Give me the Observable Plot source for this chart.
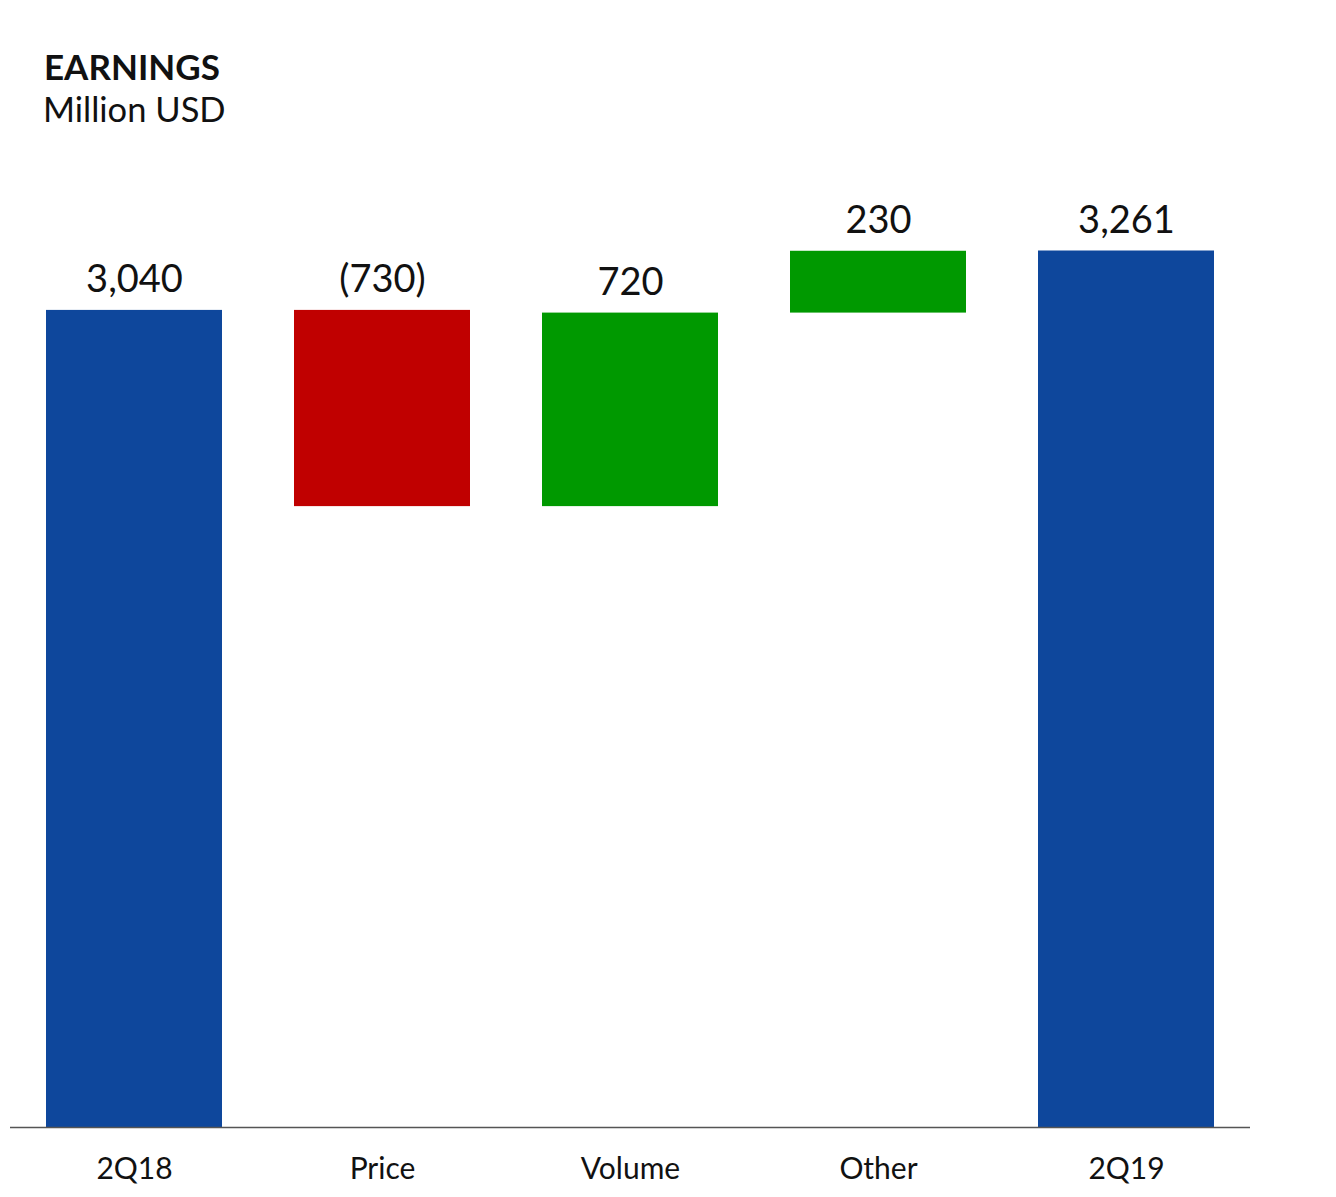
<!DOCTYPE html>
<html>
<head>
<meta charset="utf-8">
<script src="https://cdn.jsdelivr.net/npm/d3@7"></script>
<script src="https://cdn.jsdelivr.net/npm/@observablehq/plot@0.6"></script>
<style>
  html, body { margin: 0; padding: 0; background: #fff; }
  body { width: 1336px; font-family: Lato, "Noto Sans", sans-serif; }
  #header { position: relative; height: 150px; }
  #title { position: absolute; left: 44px; top: 49px; font-size: 35px; font-weight: 700; color: #111; line-height: 1; }
  #subtitle { position: absolute; left: 43px; top: 92px; font-size: 34.5px; font-weight: 400; color: #111; line-height: 1; }
  svg { display: block; }
</style>
</head>
<body>
<div id="header">
  <div id="title">EARNINGS</div>
  <div id="subtitle">Million USD</div>
</div>
<div id="chart"></div>
<script>
const categories = ["2Q18", "Price", "Volume", "Other", "2Q19"];
const values = [3040, -730, 720, 230, 3261];
const kinds = ["total", "delta", "delta", "delta", "total"];
const labels = ["3,040", "(730)", "720", "230", "3,261"];

const colors = { total: "#0E479C", up: "#009900", down: "#C00000" };

let running = 0;
const data = categories.map((c, i) => {
  let y1, y2, kind;
  if (kinds[i] === "total") {
    y1 = 0; y2 = values[i]; running = values[i]; kind = "total";
  } else {
    y1 = running; y2 = running + values[i]; running = y2;
    kind = values[i] >= 0 ? "up" : "down";
  }
  return { cat: c, y1, y2, top: Math.max(y1, y2), kind, label: labels[i] };
});

const chart = Plot.plot({
  width: 1336,
  height: 1047,
  marginLeft: 10,
  marginRight: 86,
  marginTop: 100.5,
  marginBottom: 70,
  style: { fontFamily: "Lato, 'Noto Sans', sans-serif", color: "#111", background: "#fff" },
  x: { domain: categories, paddingInner: 0.29, paddingOuter: 0.145, label: null },
  y: { domain: [0, 3261], axis: null },
  marks: [
    Plot.barY(data, { x: "cat", y1: "y1", y2: "y2", fill: d => colors[d.kind] }),
    Plot.ruleY([0], { stroke: "#555", strokeWidth: 1.5 }),
    Plot.text(data, { x: "cat", y: "top", text: "label", lineAnchor: "bottom", dy: -18, fontSize: 38, fill: "#111" }),
    Plot.axisX({ tickSize: 0, tickPadding: 30, fontSize: 30, label: null, fill: "#111" })
  ]
});
document.getElementById("chart").appendChild(chart);
</script>
</body>
</html>
